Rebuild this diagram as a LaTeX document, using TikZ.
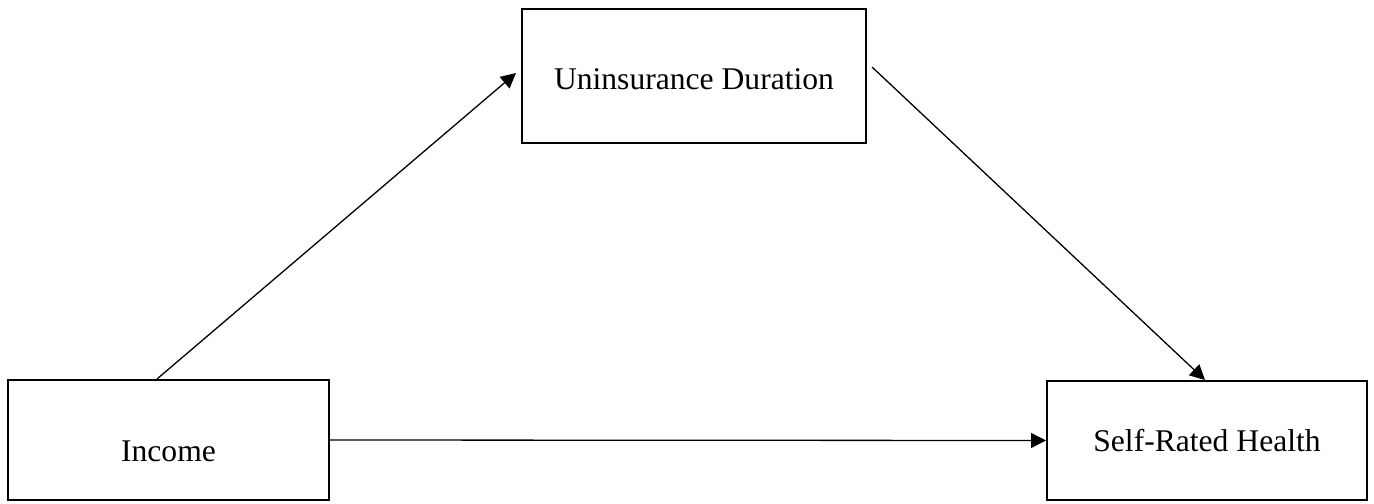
\documentclass[tikz,border=0pt]{standalone}
\usepackage{fontspec}
\setmainfont{Liberation Serif}
\usetikzlibrary{arrows.meta}
\begin{document}
\begin{tikzpicture}[x=0.5pt,y=-0.5pt,
  box/.style={draw=black, line width=1pt, inner sep=0pt, fill=white},
  lbl/.style={inner sep=0pt, font=\fontsize{15.8}{19}\selectfont},
  link/.style={draw=black, line width=0.65pt, -{Triangle[length=7.5pt,width=7.5pt]}}
]
\useasboundingbox (0,0) rectangle (1374,503);
% variable boxes
\node[box, minimum width=172pt, minimum height=67pt] (ud) at (694,76) {};
\node[box, minimum width=160.5pt, minimum height=60pt] (inc) at (168.5,440) {};
\node[box, minimum width=160pt, minimum height=59.5pt] (srh) at (1207,440.5) {};
% labels
\node[lbl] (udtext) at ([yshift=-1.5pt]ud.center) {Uninsurance Duration};
\node[lbl] (inctext) at ([yshift=-5.5pt]inc.center) {Income};
\node[lbl] (srhtext) at (srh.center) {Self-Rated Health};
% paths
\draw[link] ([xshift=75pt]inc.north west) -- ([xshift=-2.5pt,yshift=1.5pt]ud.west);
\draw[link] ([xshift=2.5pt,yshift=4.5pt]ud.east) -- ([xshift=-1pt]srh.north);
\draw[link] (inc.east) -- (srh.west);
\end{tikzpicture}
\end{document}
